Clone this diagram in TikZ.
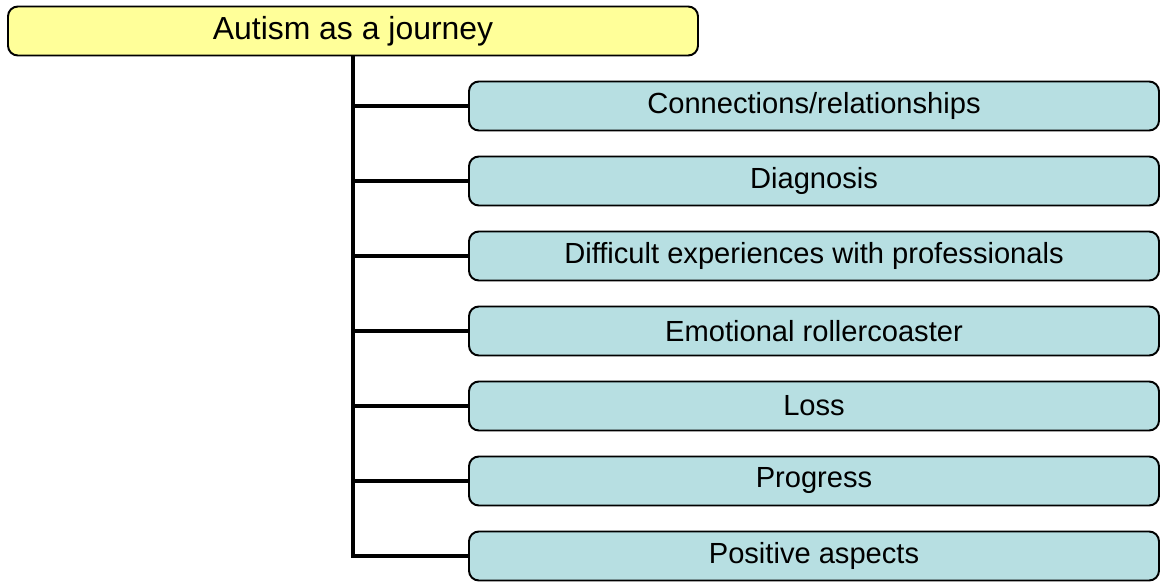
\documentclass[tikz,border=0pt]{standalone}
\usepackage{fontspec}
\setmainfont{Liberation Sans}
\usepackage{tikz}
\definecolor{rootfill}{RGB}{255,255,153}
\definecolor{themefill}{RGB}{183,223,226}
\tikzset{
	box/.style={draw=black, line width=1.4pt, rounded corners=7pt, minimum width=690*0.025cm, minimum height=49*0.025cm, inner sep=0pt, text=black},
	rootbox/.style={box, fill=rootfill, font=\fontsize{22.7}{27}\selectfont},
	themebox/.style={box, fill=themefill, font=\fontsize{20.7}{25}\selectfont},
	branch/.style={line width=2.4pt}
}

\begin{document}
\begin{tikzpicture}[x=0.025cm, y=-0.025cm]
		%%%%% START %%%%%
		\useasboundingbox (0, 0) rectangle (1160, 586);
		
		\node[rootbox] (root) at (353, 31) {Autism as a journey};
		
		\foreach \i/\txt in {1/Connections\slash relationships, 2/Diagnosis, 3/Difficult experiences with professionals, 4/Emotional rollercoaster, 5/Loss, 6/Progress, 7/Positive aspects}
		{
			\node[themebox] (theme\i) at (814, {31 + 75*\i}) {\txt};
		}
		
		\draw[branch] (root.south) -- (root.south |- theme7.west) -- (theme7.west);
		\foreach \i in {1,...,6}
			\draw[branch] (root.south |- theme\i.west) -- (theme\i.west);
		
		%%%%% END %%%%%
	\end{tikzpicture}
\end{document}
